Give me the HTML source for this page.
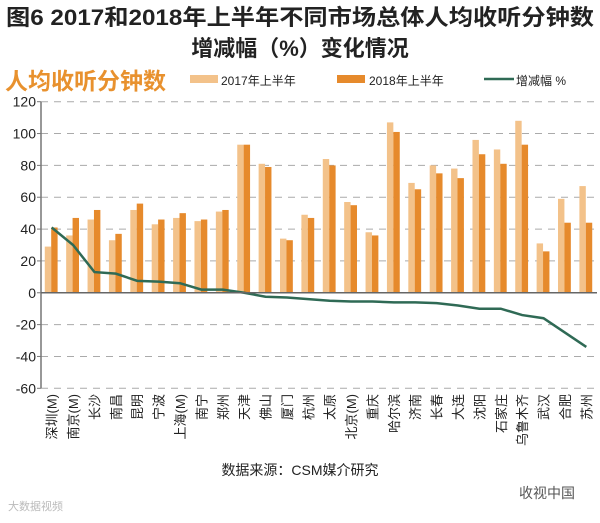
<!DOCTYPE html>
<html><head><meta charset="utf-8"><style>
body{margin:0;background:#fff;width:600px;height:518px;overflow:hidden;font-family:"Liberation Sans","Noto Sans CJK SC",sans-serif}
svg text{font-family:"Liberation Sans","Noto Sans CJK SC",sans-serif}
</style></head><body>
<svg id="chart" width="600" height="518" xmlns="http://www.w3.org/2000/svg">
<text x="300" y="25" text-anchor="middle" font-size="22" font-weight="bold" fill="#222" textLength="588" lengthAdjust="spacingAndGlyphs">图6 2017和2018年上半年不同市场总体人均收听分钟数</text>
<text x="300" y="56" text-anchor="middle" font-size="22" font-weight="bold" fill="#222">增减幅（%）变化情况</text>
<text x="5" y="89" font-size="23" font-weight="bold" fill="#e8912e">人均收听分钟数</text>
<g>
<rect x="190" y="75" width="28" height="8" fill="#f3c28a"/>
<text x="221" y="85" font-size="12" fill="#222">2017年上半年</text>
<rect x="337" y="75" width="28" height="8" fill="#e68a2c"/>
<text x="369" y="85" font-size="12" fill="#222">2018年上半年</text>
<line x1="484" y1="79" x2="514" y2="79" stroke="#2f6a55" stroke-width="2.5"/>
<text x="516" y="85" font-size="12" fill="#222">增减幅 %</text>
</g>
<g id="grid"></g><g id="bars"></g><g id="line"></g><g id="axes"></g>
<text x="300" y="475" text-anchor="middle" font-size="14" fill="#222">数据来源：CSM媒介研究</text>
<text x="575" y="498" text-anchor="end" font-size="14" fill="#555">收视中国</text>
<text x="8" y="510" font-size="11" fill="#bbb">大数据视频</text>
</svg>
<script>
const categories=["深圳(M)","南京(M)","长沙","南昌","昆明","宁波","上海(M)","南宁","郑州","天津","佛山","厦门","杭州","太原","北京(M)","重庆","哈尔滨","济南","长春","大连","沈阳","石家庄","乌鲁木齐","武汉","合肥","苏州"];
const values2017=[29,36,46,33,52,43,47,45,51,93,81,34,49,84,57,38,107,69,80,78,96,90,108,31,59,67];
const values2018=[41,47,52,37,56,46,50,46,52,93,79,33,47,80,55,36,101,65,75,72,87,81,93,26,44,44];
const changePct=[41,30,13,12,7.5,7,6,2,2,0,-2.5,-3,-4,-5,-5.5,-5.5,-6,-6,-6.5,-8,-10,-10,-14,-16,-25,-34];
const yTicks=[120,100,80,60,40,20,0,-20,-40,-60];
const NS="http://www.w3.org/2000/svg";
const x0=41,x1=597,yTop=101.7,yBot=388.3,vMax=120,vMin=-60;
const step=(x1-x0)/categories.length;
function y(v){return yTop+(vMax-v)*(yBot-yTop)/(vMax-vMin);}
function xc(i){return x0+step*(i+0.5);}
function mk(tag,attrs,parent){const e=document.createElementNS(NS,tag);for(const k in attrs)e.setAttribute(k,attrs[k]);document.getElementById(parent).appendChild(e);return e;}
yTicks.forEach(t=>{
  if(t!==0){const g=mk('line',{x1:x0,x2:x1,y1:y(t),y2:y(t),stroke:'#aaa','stroke-dasharray':'7,6','stroke-width':1},'grid');
  
  }
  const tl=mk('text',{x:x0-5,y:y(t)+5,'text-anchor':'end','font-size':14,fill:'#222'},'axes');
  tl.textContent=t;
  
  
  const tk=mk('line',{x1:x0-4,x2:x0,y1:y(t),y2:y(t),stroke:'#777'},'axes');
  
  
});
const bw=step*0.3;
categories.forEach((c,i)=>{
  const cx=xc(i);
  const b1=mk('rect',{x:cx-bw-0.5,y:y(values2017[i]),width:bw,height:y(0)-y(values2017[i]),fill:'#f3c28a'},'bars');
  
  
  const b2=mk('rect',{x:cx-0.5,y:y(values2018[i]),width:bw,height:y(0)-y(values2018[i]),fill:'#e68a2c'},'bars');
  
  
  const lab=mk('text',{x:0,y:0,'text-anchor':'end','font-size':13,fill:'#222',transform:`translate(${cx+5},394) rotate(-90)`},'axes');
  lab.textContent=c;
  
  
});
const pts=changePct.map((v,i)=>`${xc(i)},${y(v)}`).join(' ');
const pl=mk('polyline',{points:pts,fill:'none',stroke:'#2f6a55','stroke-width':2.5},'line');


const ya=mk('line',{x1:x0,x2:x0,y1:yTop,y2:yBot,stroke:'#777','stroke-width':1.5},'axes');


const xa=mk('line',{x1:x0,x2:x1,y1:y(0),y2:y(0),stroke:'#666','stroke-width':1.5},'axes');


</script>
</body></html>
